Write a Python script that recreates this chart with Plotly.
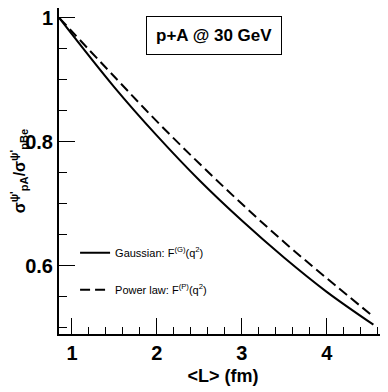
import plotly.graph_objects as go

L_fm = [0.85, 1.5, 2.0, 2.5, 3.0, 3.5, 4.0, 4.55]
ratio_gauss = [1.0, 0.888, 0.810, 0.738, 0.673, 0.613, 0.558, 0.505]
ratio_power = [1.0, 0.905, 0.833, 0.765, 0.700, 0.638, 0.580, 0.518]
y_tickvals = [0.6, 0.8, 1.0]
y_ticktext = ["0.6", "0.8", "1"]
x_tickvals = [1, 2, 3, 4]

FONT = "Liberation Sans, Arial, sans-serif"

fig = go.Figure()
fig.add_trace(go.Scatter(x=L_fm, y=ratio_gauss, mode="lines", line=dict(color="black", width=2, shape="spline"),
                         name="Gaussian: F<sup>(G)</sup>(q<sup>2</sup>)", legendgroup="g"))
fig.add_trace(go.Scatter(x=L_fm, y=ratio_power, mode="lines",
                         line=dict(color="black", width=2, dash="10px,5px", shape="spline"),
                         name="Power law: F<sup>(P)</sup>(q<sup>2</sup>)", legendgroup="p"))

fig.update_layout(
    width=380, height=384,
    margin=dict(l=51, r=1, t=0, b=58, autoexpand=False),
    plot_bgcolor="white", paper_bgcolor="white",
    font=dict(family=FONT, color="black"),
    showlegend=True,
    legend=dict(x=0.049, y=0.294, xanchor="left", yanchor="top", bgcolor="rgba(0,0,0,0)",
                font=dict(size=11, family=FONT), tracegroupgap=18, itemwidth=30,
                traceorder="grouped"),
    xaxis=dict(range=[0.847, 4.71], tickvals=x_tickvals, ticks="inside", ticklen=16, tickwidth=1,
               tickcolor="black", showline=True, linecolor="black", linewidth=2, mirror=True,
               showgrid=False, zeroline=False, automargin=False,
               tickfont=dict(size=20, family=FONT, weight="bold"),
               minor=dict(dtick=0.2, tick0=0, ticks="inside", ticklen=7, tickcolor="black", showgrid=False),
               title=dict(text="<b><L> (fm)</b>", font=dict(size=18, family=FONT), standoff=6)),
    yaxis=dict(range=[0.49, 1.016], tickvals=y_tickvals, ticktext=y_ticktext, ticks="inside", ticklen=16,
               tickwidth=1, tickcolor="black", showline=True, linecolor="black", linewidth=2, mirror=True,
               showgrid=False, zeroline=False, automargin=False, ticklabeloverflow="allow",
               tickfont=dict(size=20, family=FONT, weight="bold"),
               minor=dict(dtick=0.05, tick0=0, ticks="inside", ticklen=8, tickcolor="black", showgrid=False),
               title=dict(text="<b>σ<sup>ψ'</sup><sub>pA</sub>/σ<sup>ψ'</sup><sub>pBe</sub></b>",
                          font=dict(size=16, family=FONT), standoff=4)),
)

fig.add_annotation(xref="paper", yref="paper", x=0.4726, y=0.917, xanchor="center", yanchor="middle",
                   text="<b>p+A @ 30 GeV</b>", showarrow=False, font=dict(size=17, family=FONT),
                   bordercolor="black", borderwidth=1, borderpad=9, bgcolor="white")

fig.write_html("out.html")
